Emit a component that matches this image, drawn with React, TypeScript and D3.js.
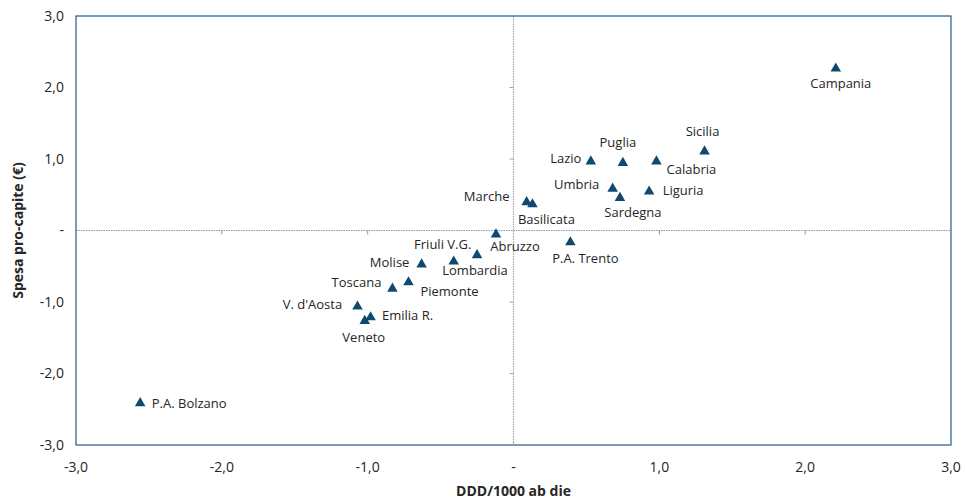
// @ts-nocheck
import React, { useEffect } from 'react';
import * as d3 from 'd3';

// regions (x = DDD/1000 ab die, y = spesa pro-capite, scarti)
const regions = [
  'Campania', 'Sicilia', 'Calabria', 'Puglia', 'Lazio', 'Umbria', 'Liguria',
  'Sardegna', 'Marche', 'Basilicata', 'Abruzzo', 'P.A. Trento', 'Lombardia',
  'Friuli V.G.', 'Molise', 'Piemonte', 'Toscana', "V. d'Aosta", 'Emilia R.',
  'Veneto', 'P.A. Bolzano',
];
const dddValues = [
  2.21, 1.31, 0.98, 0.75, 0.53, 0.68, 0.93,
  0.73, 0.09, 0.13, -0.12, 0.39, -0.25,
  -0.41, -0.63, -0.72, -0.83, -1.07, -0.98,
  -1.02, -2.56,
];
const spesaValues = [
  2.28, 1.12, 0.98, 0.96, 0.98, 0.60, 0.56,
  0.47, 0.41, 0.38, -0.04, -0.15, -0.33,
  -0.42, -0.46, -0.71, -0.80, -1.05, -1.20,
  -1.25, -2.40,
];
const tickValues = [-3, -2, -1, 0, 1, 2, 3];

// label offsets from the marker (px), as the labels were placed in the original
const labelOffsets = {
  'Campania': [5, 16], 'Sicilia': [-2, -19], 'Calabria': [35, 9], 'Puglia': [-5, -19],
  'Lazio': [-25, -2], 'Umbria': [-36, -3], 'Liguria': [34, 0], 'Sardegna': [13, 16],
  'Marche': [-40, -5], 'Basilicata': [14, 16], 'Abruzzo': [19, 13], 'P.A. Trento': [15, 17],
  'Lombardia': [-2, 16], 'Friuli V.G.': [-11, -16], 'Molise': [-32, -1], 'Piemonte': [41, 10],
  'Toscana': [-36, -5], "V. d'Aosta": [-45, -1], 'Emilia R.': [37, -1], 'Veneto': [-1, 18],
  'P.A. Bolzano': [49, 1],
};

const W = 965, H = 501;
const FONT = "'Open Sans', 'Noto Sans', sans-serif";

export default function App() {
  useEffect(() => {
    document.body.style.margin = '0';
  }, []);

  const x = d3.scaleLinear().domain([-3, 3]).range([76, 951]);
  const y = d3.scaleLinear().domain([-3, 3]).range([445, 16]);
  const tri = d3.symbol().type(d3.symbolTriangle).size(48)();
  // excel style: hyphen minus, comma decimal, "-" for zero
  const fmt = (v) => (v === 0 ? '-' : v.toFixed(1).replace('.', ','));

  const points = regions.map((r, i) => ({ name: r, x: dddValues[i], y: spesaValues[i] }));

  return (
    <svg width={W} height={H} style={{ display: 'block', fontFamily: FONT }}>
      <rect x={0} y={0} width={W} height={H} fill="#ffffff" />

      {/* zero lines */}
      <line x1={x(-3)} x2={x(3)} y1={y(0)} y2={y(0)} stroke="#7f9bb5" strokeWidth={1.2} strokeDasharray="1.5 1" />
      <line x1={x(0)} x2={x(0)} y1={y(3)} y2={y(-3)} stroke="#a6a6a6" strokeWidth={1.2} strokeDasharray="1.5 1" />
      {tickValues.filter((t) => t !== 0 && Math.abs(t) !== 3).map((t) => (
        <g key={'t' + t}>
          <line x1={x(t)} x2={x(t)} y1={y(0)} y2={y(0) + 4} stroke="#7f9bb5" strokeWidth={1} />
          <line x1={x(0) - 4} x2={x(0)} y1={y(t)} y2={y(t)} stroke="#a6a6a6" strokeWidth={1} />
        </g>
      ))}

      {/* plot frame */}
      <rect x={x(-3)} y={y(3)} width={x(3) - x(-3)} height={y(-3) - y(3)} fill="none" stroke="#1f5b8e" strokeWidth={1.2} />
      <line x1={x(0)} x2={x(0)} y1={y(-3)} y2={y(-3) - 4} stroke="#a6a6a6" strokeWidth={1} />

      {/* axis tick labels */}
      {tickValues.map((t) => (
        <text key={'yl' + t} x={64} y={y(t)} dy="0.35em" textAnchor="end" fontSize={14} fill="#262626">
          {fmt(t)}
        </text>
      ))}
      {tickValues.map((t) => (
        <text key={'xl' + t} x={x(t)} y={467} dy="0.35em" textAnchor="middle" fontSize={14} fill="#262626">
          {fmt(t)}
        </text>
      ))}

      {/* axis titles */}
      <text x={x(0)} y={491} dy="0.35em" textAnchor="middle" fontSize={14} fontWeight="bold" fill="#262626">
        DDD/1000 ab die
      </text>
      <text transform={`translate(18,${y(0)}) rotate(-90)`} dy="0.35em" textAnchor="middle" fontSize={14} fontWeight="bold" fill="#262626">
        Spesa pro-capite (€)
      </text>

      {/* markers */}
      {points.map((p) => (
        <path key={'m' + p.name} d={tri} transform={`translate(${x(p.x)},${y(p.y) + 1})`} fill="#0f4a6e" />
      ))}

      {/* labels */}
      {points.map((p) => {
        const [dx, dy] = labelOffsets[p.name];
        return (
          <text key={'l' + p.name} x={x(p.x) + dx} y={y(p.y) + dy} dy="0.35em" textAnchor="middle" fontSize={13} fill="#262626">
            {p.name}
          </text>
        );
      })}
    </svg>
  );
}
